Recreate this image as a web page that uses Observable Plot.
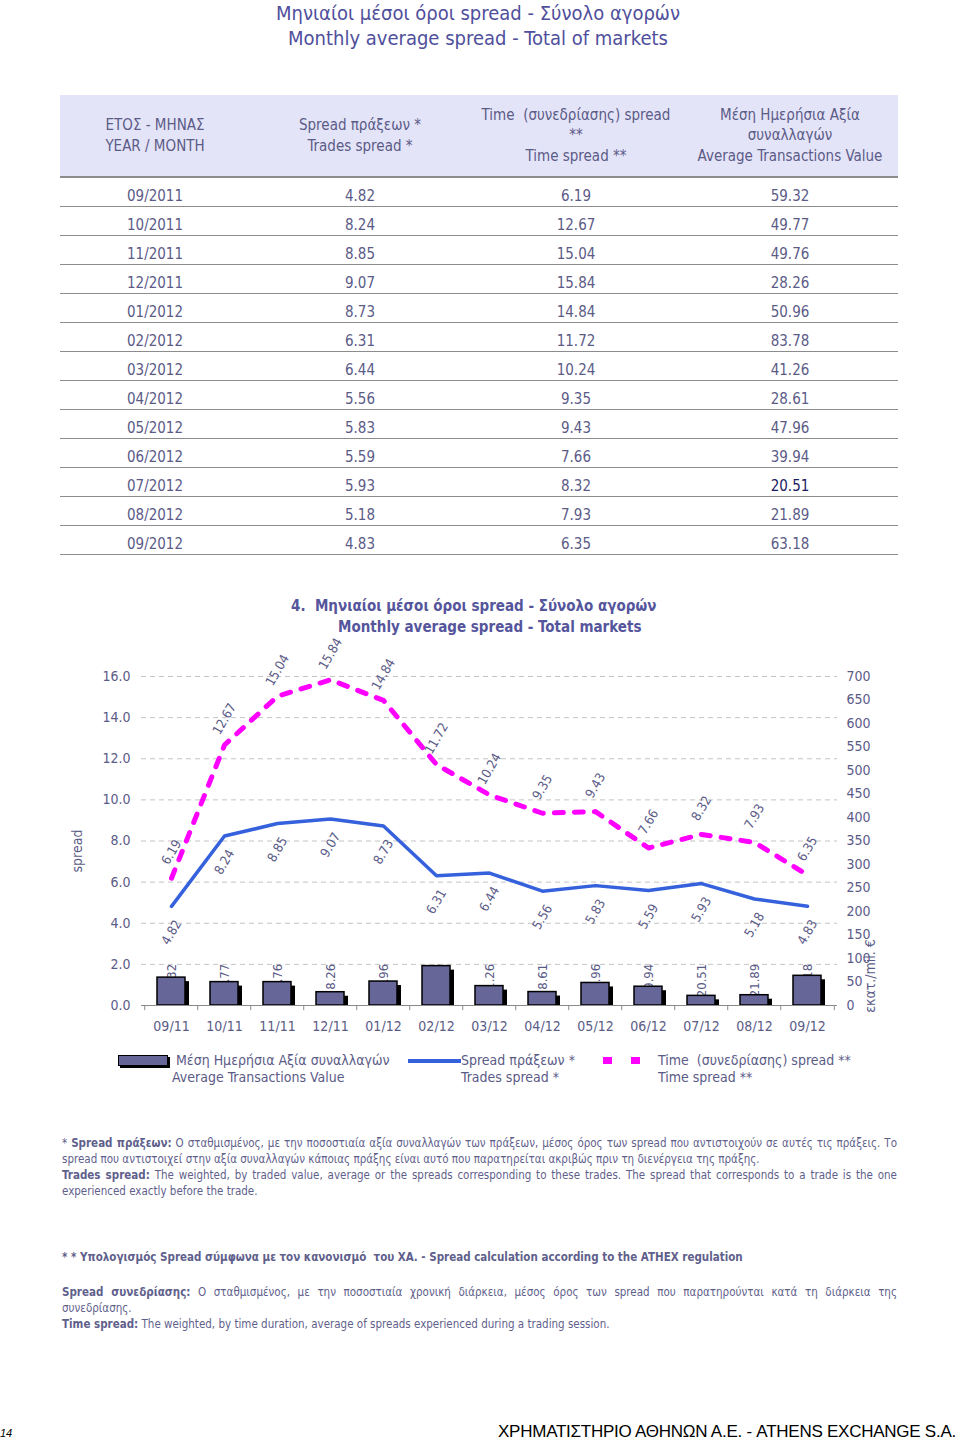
<!DOCTYPE html>
<html><head><meta charset="utf-8">
<script src="https://cdn.jsdelivr.net/npm/d3@7"></script>
<script src="https://cdn.jsdelivr.net/npm/@observablehq/plot@0.6"></script>
<style>
body{margin:0;background:#fff;}
#page{position:relative;width:960px;height:1440px;background:#fff;font-family:"DejaVu Sans Condensed","DejaVu Sans",sans-serif;font-stretch:condensed;color:#5b5b87;overflow:hidden;}
.abs{position:absolute;white-space:nowrap;}
.title{left:0;width:956px;text-align:center;font-size:20px;line-height:24px;color:#4f4f9c;}
table{border-collapse:collapse;table-layout:fixed;font-size:15px;color:#5b5b87;}
th{font-weight:normal;background:#e4e4f8;height:81px;padding:0;line-height:20.5px;vertical-align:middle;border-bottom:2px solid #8c8c8c;}
td{text-align:center;height:19px;padding:9px 0 0 0;line-height:19px;border-bottom:1.5px solid #8c8c8c;}
td.hl{color:#1a1a60;}
.ctitle{font-weight:bold;font-size:15px;color:#55559c;}
.leg{font-size:14px;line-height:17px;}
.note{position:absolute;left:62px;width:835px;font-size:11.5px;line-height:16px;color:#5f5f8c;}
.j{text-align:justify;text-align-last:justify;white-space:normal;}
b{font-weight:bold;}
</style></head>
<body><div id="page">
<div class="abs title" style="top:1px">Μηνιαίοι μέσοι όροι spread - Σύνολο αγορών</div>
<div class="abs title" style="top:26px">Monthly average spread - Total of markets</div>
<div class="abs" style="left:60px;top:95px"><table id="tbl" style="width:838px">
<colgroup><col style="width:190px"><col style="width:220px"><col style="width:212px"><col style="width:216px"></colgroup>
<thead><tr>
<th>ΕΤΟΣ - ΜΗΝΑΣ<br>YEAR / MONTH</th>
<th>Spread πράξεων *<br>Trades spread *</th>
<th>Time &nbsp;(συνεδρίασης) spread<br>**<br>Time spread **</th>
<th>Μέση Ημερήσια Αξία<br>συναλλαγών<br>Average Transactions Value</th>
</tr></thead><tbody id="tb"></tbody></table></div>
<div class="abs ctitle" style="left:291px;top:597px">4.&nbsp; Μηνιαίοι μέσοι όροι spread - Σύνολο αγορών</div>
<div class="abs ctitle" style="left:338px;top:618px">Monthly average spread - Total markets</div>
<div class="abs" id="chart" style="left:0;top:648px"></div>
<!-- legend -->
<div class="abs" style="left:118px;top:1055px;width:48px;height:9px;background:#666699;border:1.5px solid #000;box-shadow:2px 2px 0 #000"></div>
<div class="abs leg" style="left:176px;top:1052px">Μέση Ημερήσια Αξία συναλλαγών</div>
<div class="abs leg" style="left:172px;top:1069px">Average Transactions Value</div>
<div class="abs" style="left:408px;top:1059px;width:53px;height:3.5px;background:#3562dc"></div>
<div class="abs leg" style="left:461px;top:1052px">Spread πράξεων *</div>
<div class="abs leg" style="left:461px;top:1069px">Trades spread *</div>
<div class="abs" style="left:603px;top:1057px;width:9px;height:7px;background:#ff00ff"></div>
<div class="abs" style="left:631px;top:1057px;width:9px;height:7px;background:#ff00ff"></div>
<div class="abs leg" style="left:658px;top:1052px">Time &nbsp;(συνεδρίασης) spread **</div>
<div class="abs leg" style="left:658px;top:1069px">Time spread **</div>
<!-- notes -->
<div class="note" style="top:1135px">
<div class="j">* <b>Spread πράξεων:</b> Ο σταθμισμένος, με την ποσοστιαία αξία συναλλαγών των πράξεων, μέσος όρος των spread που αντιστοιχούν σε αυτές τις πράξεις. Το</div>
<div>spread που αντιστοιχεί στην αξία συναλλαγών κάποιας πράξης είναι αυτό που παρατηρείται ακριβώς πριν τη διενέργεια της πράξης.</div>
<div class="j"><b>Trades spread:</b> The weighted, by traded value, average or the spreads corresponding to these trades. The spread that corresponds to a trade is the one</div>
<div>experienced exactly before the trade.</div>
</div>
<div class="note" style="top:1249px"><b>* * Υπολογισμός Spread σύμφωνα με τον κανονισμό &nbsp;του ΧΑ. - Spread calculation according to the ATHEX regulation</b></div>
<div class="note" style="top:1284px">
<div class="j"><b>Spread συνεδρίασης:</b> Ο σταθμισμένος, με την ποσοστιαία χρονική διάρκεια, μέσος όρος των spread που παρατηρούνται κατά τη διάρκεια της</div>
<div>συνεδρίασης.</div>
<div><b>Time spread:</b> The weighted, by time duration, average of spreads experienced during a trading session.</div>
</div>
<div class="abs" style="left:0px;top:1427px;font-family:'Liberation Sans',Arial,sans-serif;font-style:italic;font-size:11px;color:#000">14</div>
<div class="abs" style="right:4px;top:1422px;text-align:right;font-family:'Liberation Sans',Arial,sans-serif;font-size:17px;line-height:20px;color:#000;letter-spacing:-0.25px">ΧΡΗΜΑΤΙΣΤΗΡΙΟ ΑΘΗΝΩΝ Α.Ε. - ATHENS EXCHANGE S.A.</div>
</div>
<script>
const tableMonths = ["09/2011","10/2011","11/2011","12/2011","01/2012","02/2012","03/2012","04/2012","05/2012","06/2012","07/2012","08/2012","09/2012"];
const months = ["09/11","10/11","11/11","12/11","01/12","02/12","03/12","04/12","05/12","06/12","07/12","08/12","09/12"];
const tradesSpread = [4.82,8.24,8.85,9.07,8.73,6.31,6.44,5.56,5.83,5.59,5.93,5.18,4.83];
const timeSpread = [6.19,12.67,15.04,15.84,14.84,11.72,10.24,9.35,9.43,7.66,8.32,7.93,6.35];
const avgValue = [59.32,49.77,49.76,28.26,50.96,83.78,41.26,28.61,47.96,39.94,20.51,21.89,63.18];
const leftTicks = [0,2,4,6,8,10,12,14,16];
const rightTicks = [0,50,100,150,200,250,300,350,400,450,500,550,600,650,700];

// table
const tb = document.getElementById("tb");
tableMonths.forEach((m,i)=>{
  const tr = document.createElement("tr");
  const cells = [m, tradesSpread[i].toFixed(2), timeSpread[i].toFixed(2), avgValue[i].toFixed(2)];
  cells.forEach((c,j)=>{
    const td = document.createElement("td");
    td.textContent = c;
    if (j===3 && m==="07/2012") td.className = "hl";
    tr.appendChild(td);
  });
  tb.appendChild(tr);
});

// chart
const data = months.map((m,i)=>({month:m, trades:tradesSpread[i], time:timeSpread[i], value:avgValue[i]}));
const K = 16/700;
const W = 960, ML = 141, MR = 123;
const step = (W - ML - MR) / months.length;
const txt = "#5b5b87";
const font = "'DejaVu Sans Condensed','DejaVu Sans',sans-serif";
const chart = Plot.plot({
  width: W, height: 395,
  marginLeft: ML, marginRight: MR, marginTop: 28, marginBottom: 38,
  style: {fontFamily: font, fontSize: "14px", color: txt, background: "transparent", overflow: "visible"},
  x: {domain: months, paddingInner: 0.48, paddingOuter: 0.24, axis: null},
  y: {domain: [0, 16], axis: null},
  marks: [
    Plot.gridY(leftTicks.filter(d => d > 0), {stroke: "#c4c4c4", strokeOpacity: 1, strokeDasharray: "5,4", strokeWidth: 1}),
    Plot.text(data, {x: "month", y: 0, dy: -25, text: d => d.value.toFixed(2), rotate: -90, fontSize: 13, fill: txt}),
    Plot.barY(data, {x: "month", y: d => d.value * K, fill: "#000", dx: 4, insetTop: 4}),
    Plot.barY(data, {x: "month", y: d => d.value * K, fill: "#666699", stroke: "#000", strokeWidth: 1.5}),
    Plot.ruleY([0], {stroke: "#8a8a8a", strokeWidth: 1.2}),
    Plot.ruleX(months, {x: d => d, y1: 0, y2: -0.25, dx: -step / 2, stroke: "#8a8a8a"}),
    Plot.ruleX(months.slice(-1), {x: d => d, y1: 0, y2: -0.25, dx: step / 2, stroke: "#8a8a8a"}),
    Plot.lineY(data, {x: "month", y: "trades", stroke: "#3562dc", strokeWidth: 3.5}),
    Plot.lineY(data, {x: "month", y: "time", stroke: "#ff00ff", strokeWidth: 5, strokeDasharray: "9,11"}),
    Plot.text(data, {x: "month", y: "trades", dy: 26, text: d => d.trades.toFixed(2), rotate: -60, fontSize: 13, fill: txt}),
    Plot.text(data, {x: "month", y: "time", dy: -26, text: d => d.time.toFixed(2), rotate: -60, fontSize: 13, fill: txt}),
    Plot.axisY(leftTicks, {anchor: "left", tickSize: 0, tickPadding: 11, tickFormat: d => d.toFixed(1), fontSize: 14, label: null}),
    Plot.axisY(rightTicks.map(v => v * K), {anchor: "right", tickSize: 0, tickPadding: 9, tickFormat: d => String(Math.round(d / K)), fontSize: 14, label: null}),
    Plot.axisX({tickSize: 0, tickPadding: 16, fontSize: 14, label: null}),
    Plot.text(["spread"], {frameAnchor: "left", textAnchor: "middle", dx: -64, dy: 10, rotate: -90, fontSize: 14, fill: txt}),
    Plot.text(["εκατ./mil. €"], {frameAnchor: "right", textAnchor: "middle", dx: 33, dy: 135, rotate: -90, fontSize: 14, fill: txt})
  ]
});
document.getElementById("chart").appendChild(chart);
</script>
</body></html>
